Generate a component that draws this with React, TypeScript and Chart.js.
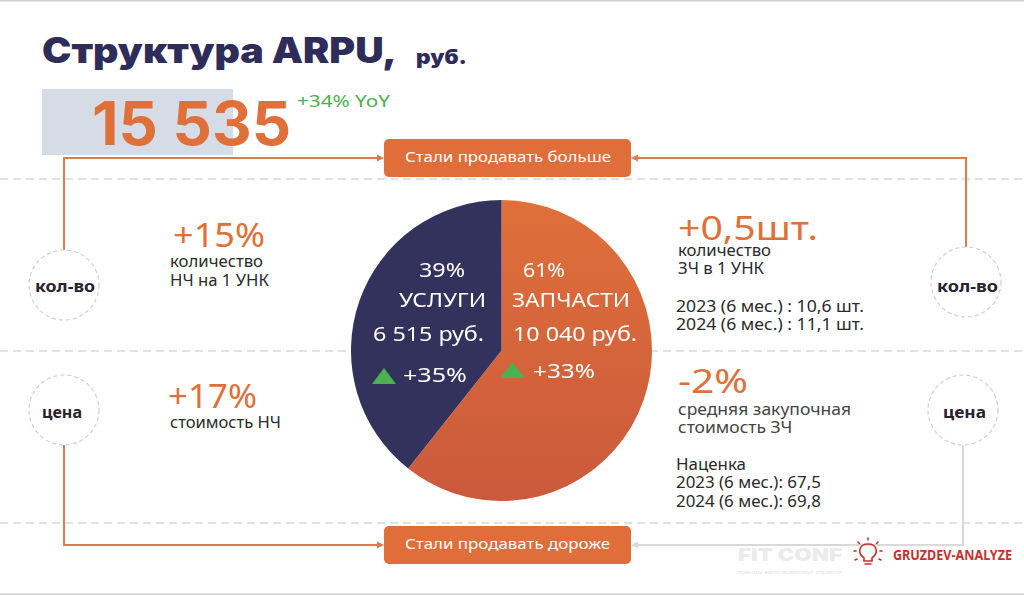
import React, { useEffect, useRef } from "react";
import { Chart, registerables } from "chart.js";

Chart.register(...registerables);

// ---- data ----
const categories = ["ЗАПЧАСТИ", "УСЛУГИ"];
const values = [10040, 6515];
const shares = ["61%", "39%"];
const amounts = ["10 040 руб.", "6 515 руб."];
const growth = ["+33%", "+35%"];
const sliceColors = ["#DE6E39", "#33325C"];

const totalArpu = "15 535";
const totalYoY = "+34% YoY";

const ORANGE = "#E0703A";
const NAVY = "#2E2C58";
const TEXT = "#2A2A2A";
const FONT = "'Noto Sans', 'Open Sans', sans-serif";
const HEAVY = "Inter, 'DejaVu Sans', sans-serif";

let _ctx: CanvasRenderingContext2D | null = null;
function measure(s: string, size: number, weight: number, family: string) {
  if (!_ctx) _ctx = document.createElement("canvas").getContext("2d");
  const ctx = _ctx as CanvasRenderingContext2D;
  ctx.font = `${weight} ${size}px ${family}`;
  const m: any = ctx.measureText(s);
  const a = typeof m.fontBoundingBoxAscent === "number" ? m.fontBoundingBoxAscent : size * 1.07;
  const d = typeof m.fontBoundingBoxDescent === "number" ? m.fontBoundingBoxDescent : size * 0.29;
  return { w: m.width as number, a, d };
}

type T = {
  x: number;
  y: number; // baseline of the first line
  s: string | string[];
  size: number;
  w?: number; // target width of the first line
  gap?: number; // distance between baselines
  color?: string;
  weight?: number;
  family?: string;
};

// text positioned by its baseline (y) and stretched to width w
function HText({ x, y, s, size, w, gap, color = TEXT, weight = 400, family = FONT }: T) {
  const lines = Array.isArray(s) ? s : [s];
  const m = measure(lines[0], size, weight, family);
  const L = gap || size * 0.78;
  const base = (L - (m.a + m.d)) / 2 + m.a;
  const sx = w ? w / m.w : 1;
  return (
    <div
      style={{
        position: "absolute",
        left: x,
        top: y - base,
        fontSize: size,
        lineHeight: `${L}px`,
        whiteSpace: "pre",
        color,
        fontWeight: weight,
        fontFamily: family,
        transform: `scaleX(${sx})`,
        transformOrigin: "0 0",
      }}
    >
      {lines.join("\n")}
    </div>
  );
}

export default function App() {
  const ref = useRef<HTMLCanvasElement | null>(null);

  useEffect(() => {
    const canvas = ref.current;
    if (!canvas) return;
    const chart = new Chart(canvas, {
      type: "pie",
      data: {
        labels: categories,
        datasets: [
          {
            data: values,
            borderWidth: 0,
            backgroundColor: (c: any) => {
              const ch = c.chart;
              const area = ch.chartArea;
              if (c.dataIndex === 1 || !area) return sliceColors[c.dataIndex];
              const g = ch.ctx.createLinearGradient(0, area.top, 0, area.bottom);
              g.addColorStop(0, "#DF703A");
              g.addColorStop(1, "#CB593C");
              return g;
            },
          },
        ],
      },
      options: {
        responsive: false,
        animation: false,
        layout: { padding: 0 },
        plugins: { legend: { display: false }, tooltip: { enabled: false } },
      },
    });
    return () => chart.destroy();
  }, []);

  const orangeLine = "#E07A48";
  const grayLine = "#D9D9D9";

  const circles: [number, number, string, number, number, number][] = [
    [64, 285, "кол-во", 35, 292, 60],
    [64, 410, "цена", 42, 418, 40],
    [966, 282, "кол-во", 937, 292, 61],
    [963, 410, "цена", 943, 418, 43],
  ];

  return (
    <div style={{ position: "absolute", left: 0, top: 0, width: 1024, height: 595, background: "#fff", overflow: "hidden" }}>
      {/* background shapes */}
      <svg width={1024} height={595} style={{ position: "absolute", left: 0, top: 0 }}>
        <line x1={0} y1={0.75} x2={1024} y2={0.75} stroke="#cfcfcf" strokeWidth={1.5} />
        <line x1={0} y1={594.25} x2={1024} y2={594.25} stroke="#cfcfcf" strokeWidth={1.5} />
        {[179, 351, 523].map((y) => (
          <line key={y} x1={0} y1={y} x2={1024} y2={y} stroke="#D8D8D8" strokeWidth={1.5} strokeDasharray="8 5" />
        ))}

        <rect x={42} y={89} width={191} height={66} fill="#D6DCE5" />

        {/* connectors */}
        <polyline points="64,250 64,158 378,158" fill="none" stroke={orangeLine} strokeWidth={2} />
        <polygon points="384,158 377,154.5 377,161.5" fill={orangeLine} />
        <polyline points="966,247 966,158 637,158" fill="none" stroke={orangeLine} strokeWidth={2} />
        <polygon points="631,158 638,154.5 638,161.5" fill={orangeLine} />
        <polyline points="64,445 64,545 378,545" fill="none" stroke={orangeLine} strokeWidth={2} />
        <polygon points="384,545 377,541.5 377,548.5" fill={orangeLine} />
        <polyline points="963,445 963,545 637,545" fill="none" stroke={grayLine} strokeWidth={2} />
        <polygon points="631,545 638,541.5 638,548.5" fill={grayLine} />

        {/* buttons */}
        <rect x={384} y={139} width={247} height={38} rx={5} fill="#DF6E3B" />
        <rect x={384} y={526} width={247} height={38} rx={5} fill="#DF6E3B" />

        {/* circles */}
        {circles.map(([cx, cy], i) => (
          <circle key={i} cx={cx} cy={cy} r={35} fill="#fff" stroke="#CFCFCF" strokeWidth={1.2} strokeDasharray="4 3" />
        ))}

        {/* logo bulb */}
        <g stroke="#C8302B" strokeWidth={1.6} fill="none" strokeLinecap="round">
          <path d="M864,561 L864,558 C860,555 859,552 860,549 C861,545 865,544 868,544 C871,544 875,545 876,549 C877,552 876,555 872,558 L872,561 Z" />
          <line x1={865} y1={564} x2={871} y2={564} />
          <line x1={868} y1={538} x2={868} y2={540} />
          <line x1={858} y1={542} x2={859.5} y2={543.5} />
          <line x1={878} y1={542} x2={876.5} y2={543.5} />
          <line x1={854} y1={551} x2={856} y2={551} />
          <line x1={880} y1={551} x2={882} y2={551} />
          <line x1={855} y1={560} x2={857} y2={559} />
          <line x1={881} y1={560} x2={879} y2={559} />
        </g>
      </svg>

      {/* title */}
      <HText x={42} y={64} s="Структура ARPU," size={35} w={355} color={NAVY} weight={900} family={HEAVY} />
      <HText x={416} y={65} s="руб." size={20} w={51} color={NAVY} weight={900} family={HEAVY} />
      <HText x={92} y={145} s={totalArpu} size={60} w={199} color={ORANGE} weight={700} family={HEAVY} />
      <HText x={297} y={107} s={totalYoY} size={17} w={93} color="#4CAF50" />

      {/* buttons text */}
      <HText x={405} y={163} s="Стали продавать больше" size={15} w={206} color="#fff" />
      <HText x={405} y={550} s="Стали продавать дороже" size={15} w={205} color="#fff" />

      {/* circle labels */}
      {circles.map(([, , s, tx, ty, tw], i) => (
        <HText key={i} x={tx} y={ty} s={s} size={16} w={tw} color="#2A2230" weight={700} />
      ))}

      {/* left side texts */}
      <HText x={173} y={248} s="+15%" size={32} w={92} color={ORANGE} />
      <HText x={170} y={267} s={["количество", "НЧ на 1 УНК"]} size={16} w={93} gap={19} />
      <HText x={168} y={409} s="+17%" size={32} w={89} color={ORANGE} />
      <HText x={170} y={428} s="стоимость НЧ" size={16} w={111} />

      {/* right side texts */}
      <HText x={678} y={241} s="+0,5шт." size={32} w={140} color={ORANGE} />
      <HText x={678} y={256} s={["количество", "ЗЧ в 1 УНК"]} size={16} w={93} gap={18} />
      <HText x={676} y={312} s={["2023 (6 мес.) : 10,6 шт.", "2024 (6 мес.) : 11,1 шт."]} size={16} w={188} gap={18} />

      <HText x={678} y={394} s="-2%" size={32} w={70} color={ORANGE} />
      <HText x={678} y={415} s={["средняя закупочная", "стоимость ЗЧ"]} size={17} w={173} gap={18} color="#444" />
      <HText
        x={676}
        y={470}
        s={["Наценка", "2023 (6 мес.): 67,5", "2024 (6 мес.): 69,8"]}
        size={16}
        w={70}
        gap={18.5}
      />

      {/* footer */}
      <HText x={738} y={562} s="FIT CONF" size={18} w={104} color="#EBEBEB" weight={900} family={HEAVY} />
      <HText x={738} y={574} s="тренды автосервисной отрасли" size={6} w={104} color="#E3E3E3" />
      <HText
        x={893}
        y={561}
        s="GRUZDEV-ANALYZE"
        size={14}
        w={119}
        color="#C8302B"
        weight={700}
        family="'Liberation Sans Narrow', 'Noto Sans', sans-serif"
      />

      <canvas ref={ref} width={301} height={301} style={{ position: "absolute", left: 351, top: 200, width: 301, height: 301 }} />

      {/* pie annotations */}
      <svg width={1024} height={595} style={{ position: "absolute", left: 0, top: 0, pointerEvents: "none" }}>
        <polygon points="372,384 396,384 384,368" fill="#4CAF50" />
        <polygon points="500,378 525,378 512.5,362" fill="#4CAF50" />
      </svg>
      <HText x={419} y={277} s={shares[1]} size={20} w={46} color="#fff" />
      <HText x={399} y={307} s={categories[1]} size={20} w={87} color="#fff" />
      <HText x={373} y={341} s={amounts[1]} size={20} w={111} color="#fff" />
      <HText x={403} y={382} s={growth[1]} size={20} w={64} color="#fff" />

      <HText x={523} y={277} s={shares[0]} size={20} w={42} color="#fff" />
      <HText x={512} y={307} s={categories[0]} size={20} w={118} color="#fff" />
      <HText x={513} y={341} s={amounts[0]} size={20} w={124} color="#fff" />
      <HText x={533} y={378} s={growth[0]} size={20} w={62} color="#fff" />
    </div>
  );
}
